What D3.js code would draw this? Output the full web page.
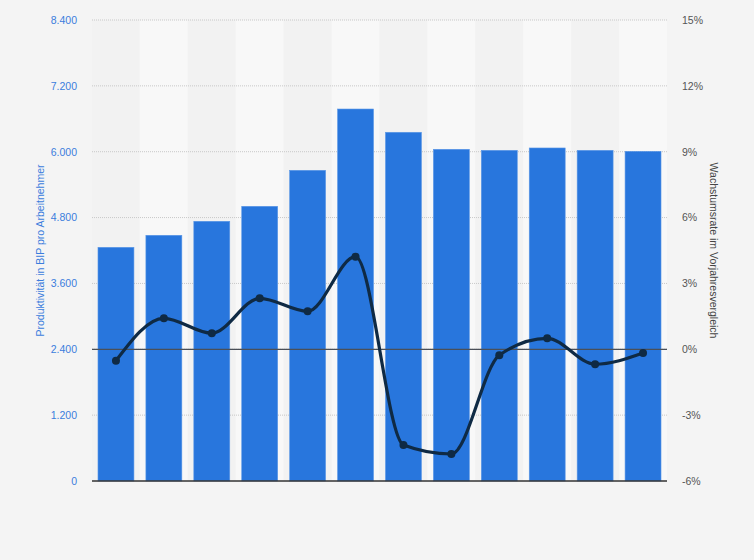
<!DOCTYPE html>
<html><head><meta charset="utf-8">
<script src="https://cdn.jsdelivr.net/npm/d3@7"></script>
<style>body{margin:0;background:#f4f4f4;}svg{display:block;font-family:"Liberation Sans",Arial,sans-serif;}</style>
</head><body>
<svg id="c" width="754" height="560"></svg>
<script>
const categories = ["1","2","3","4","5","6","7","8","9","10","11","12"];
const productivity = [4258, 4477, 4732, 5005, 5661, 6778, 6354, 6044, 6025, 6068, 6025, 6007];
const growth = [-0.52, 1.41, 0.73, 2.32, 1.73, 4.22, -4.36, -4.77, -0.27, 0.50, -0.68, -0.17];
const leftTicks = [0, 1200, 2400, 3600, 4800, 6000, 7200, 8400];
const rightTicks = [-6, -3, 0, 3, 6, 9, 12, 15];

const svg = d3.select("#c");
const m = {l:92, r:667, t:20, b:481};
const x = d3.scaleBand().domain(categories).range([m.l, m.r]).paddingInner(0.25).paddingOuter(0.125);
const xb = d3.scaleBand().domain(categories).range([m.l, m.r]);
const yL = d3.scaleLinear().domain([0, 8400]).range([m.b, m.t]);
const yR = d3.scaleLinear().domain([-6, 15]).range([m.b, m.t]);

svg.append("rect").attr("width",754).attr("height",560).attr("fill","#f4f4f4");
// alternating bands
svg.append("g").selectAll("rect").data(categories).join("rect")
  .attr("x", d => xb(d)).attr("width", xb.bandwidth())
  .attr("y", m.t).attr("height", m.b - m.t)
  .attr("fill", (d,i) => i % 2 ? "#f8f8f8" : "#f2f2f2");

// grid
svg.append("g").selectAll("line").data(leftTicks.slice(1)).join("line")
  .attr("x1", m.l).attr("x2", m.r)
  .attr("y1", d => yL(d)).attr("y2", d => yL(d))
  .attr("stroke", "#c8c8c8").attr("stroke-dasharray", "1,1");

const fmt = d3.formatLocale({decimal:",", thousands:".", grouping:[3], currency:["","€"]}).format(",");

// left axis
const gl = svg.append("g").attr("transform", `translate(${m.l - 15},0)`)
  .call(d3.axisLeft(yL).tickValues(leftTicks).tickSize(0).tickPadding(0).tickFormat(fmt));
gl.select(".domain").remove();
gl.selectAll("text").attr("fill","#3b7ddd").attr("font-size", 10.5).attr("font-family","Liberation Sans, Arial, sans-serif");

// right axis
const gr = svg.append("g").attr("transform", `translate(${m.r + 15},0)`)
  .call(d3.axisRight(yR).tickValues(rightTicks).tickSize(0).tickPadding(0).tickFormat(d => d + "%"));
gr.select(".domain").remove();
gr.selectAll("text").attr("fill","#555").attr("font-size", 10.5).attr("font-family","Liberation Sans, Arial, sans-serif");

// titles
svg.append("text").attr("transform", `translate(44,${(m.t+m.b)/2}) rotate(-90)`)
  .attr("text-anchor","middle").attr("fill","#3b7ddd").attr("font-size",10.5)
  .text("Produktivität in BIP pro Arbeitnehmer");
svg.append("text").attr("transform", `translate(710,${(m.t+m.b)/2}) rotate(90)`)
  .attr("text-anchor","middle").attr("fill","#444").attr("font-size",10.5)
  .text("Wachstumsrate im Vorjahresvergleich");

// bars
svg.append("g").selectAll("rect").data(productivity).join("rect")
  .attr("x", (d,i) => x(categories[i])).attr("width", x.bandwidth())
  .attr("y", d => yL(d)).attr("height", d => yL(0) - yL(d))
  .attr("fill", "#2876dd").attr("stroke","#5a97e6").attr("stroke-width",0.6);

// zero line of right axis
svg.append("line").attr("x1", m.l).attr("x2", m.r)
  .attr("y1", yR(0)).attr("y2", yR(0)).attr("stroke","#4a4f57").attr("stroke-width",1.3);
// x axis baseline
svg.append("line").attr("x1", m.l).attr("x2", m.r)
  .attr("y1", m.b).attr("y2", m.b).attr("stroke","#333").attr("stroke-width",1.3);

// line
const cx = (i) => xb(categories[i]) + xb.bandwidth()/2;
const line = d3.line().x((d,i) => cx(i)).y(d => yR(d)).curve(d3.curveMonotoneX);
svg.append("path").datum(growth).attr("d", line)
  .attr("fill","none").attr("stroke","#0f2a44").attr("stroke-width",3.2);
svg.append("g").selectAll("circle").data(growth).join("circle")
  .attr("cx", (d,i) => cx(i)).attr("cy", d => yR(d)).attr("r", 4).attr("fill","#0f2a44");
</script>
</body></html>
